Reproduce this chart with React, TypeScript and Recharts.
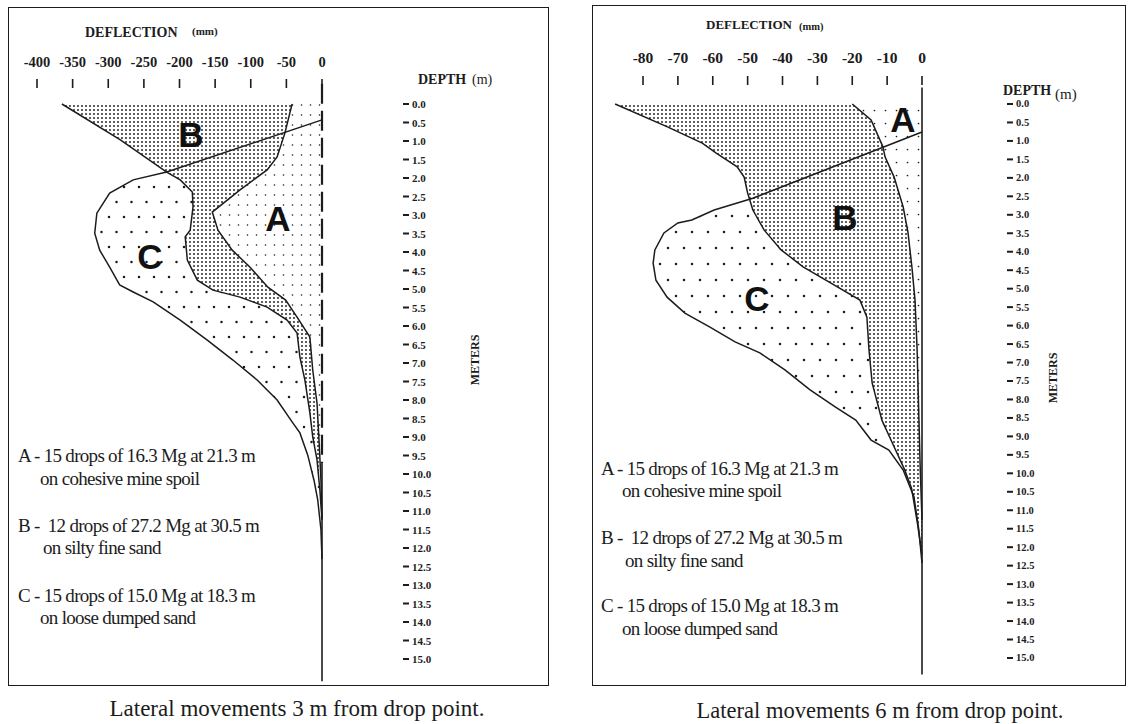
import React from "react";
import { ComposedChart, Area, Line, XAxis, YAxis, ReferenceLine } from "recharts";

const SERIF = "'Liberation Serif', 'Times New Roman', serif";
const SANS = "'Liberation Sans', Arial, sans-serif";
const INK = "#1c1c1c";

// Lateral movement 3 m from the drop point: depth (m) vs deflection (mm)
const depthA3 = [0, 0.78, 1.43, 1.78, 2.32, 2.92, 3.41, 3.95, 4.41, 4.95, 5.3, 5.76, 6.3, 7.19, 8.08, 9.16, 10.16, 11.2];
const deflA3 = [-42, -52, -63, -77, -115, -154, -146, -126, -101, -76, -51, -35, -17, -13, -7, -4, -1.5, 0];

const depthB3 = [0, 0.97, 1.84, 2.05, 2.38, 2.78, 3.41, 3.59, 4.22, 4.76, 5.03, 5.22, 5.49, 5.84, 6.19, 6.84, 7.46, 8.35, 9.0, 9.62, 10.43, 11.24];
const deflB3 = [-365, -283, -218, -199, -182, -181, -185, -192, -189, -175, -153, -115, -77, -49, -35, -31, -24, -17, -13, -7, -3, 0];

const depthC3 = [0.43, 1.84, 2.05, 2.41, 2.95, 3.49, 3.95, 4.41, 4.89, 5.08, 5.35, 5.84, 6.38, 6.92, 7.46, 8.0, 8.62, 8.89, 9.49, 10.19, 10.7, 11.5, 12.3];
const deflC3 = [0, -218, -265, -298, -316, -319, -312, -298, -284, -265, -237, -199, -161, -125, -91, -63, -41, -31, -20, -11, -6, -1.5, 0];

// Lateral movement 6 m from the drop point
const depthA6 = [0, 0.43, 1.16, 1.43, 1.98, 2.79, 3.49, 4.41, 5.31, 6.66, 8.48, 9.9, 11.26];
const deflA6 = [-20, -14.6, -11.2, -10.6, -8, -5.4, -4, -2.9, -2, -1.4, -0.9, -0.5, 0];

const depthB6 = [0, 0.62, 1.06, 1.33, 1.7, 1.98, 2.41, 2.87, 3.41, 3.95, 4.41, 4.85, 5.31, 5.77, 6.66, 7.55, 8.56, 9.18, 9.9, 10.4, 11.3, 12.2];
const deflB6 = [-88, -73, -63, -59, -53, -51, -50, -48.5, -45.3, -40.4, -34.1, -26.1, -17.8, -15.8, -15.2, -14.3, -11.5, -8.5, -5, -3, -1.4, 0];

const depthC6 = [0.76, 2.55, 2.87, 3.14, 3.22, 3.49, 3.95, 4.31, 4.77, 5.23, 5.66, 6.04, 6.44, 6.74, 7.2, 7.74, 8.2, 8.56, 9.1, 9.37, 9.91, 10.64, 11.54, 12.43];
const deflC6 = [0, -48.5, -59.6, -66, -70, -74, -76.6, -77.1, -76.3, -73.1, -68, -60.8, -53.6, -46.5, -39.3, -32.1, -24.9, -19, -14.6, -9.5, -5.4, -2.3, -0.9, 0];

const deflTicks3 = [-400, -350, -300, -250, -200, -150, -100, -50, 0];
const deflTicks6 = [-80, -70, -60, -50, -40, -30, -20, -10, 0];
const depthTicks = [0, 0.5, 1, 1.5, 2, 2.5, 3, 3.5, 4, 4.5, 5, 5.5, 6, 6.5, 7, 7.5, 8, 8.5, 9, 9.5, 10, 10.5, 11, 11.5, 12, 12.5, 13, 13.5, 14, 14.5, 15];

const legendLines = [
  "A - 15 drops of 16.3 Mg at 21.3 m",
  "on cohesive mine spoil",
  "B - \u00a012 drops of 27.2 Mg at 30.5 m",
  "on silty fine sand",
  "C - 15 drops of 15.0 Mg at 18.3 m",
  "on loose dumped sand",
];

type Row = { depth: number; [key: string]: number };

function buildRows(series: [string, number[], number[]][]): Row[] {
  const rows: Row[] = [];
  series.forEach(([key, depth, defl]) =>
    depth.forEach((d, i) => rows.push({ depth: d, [key]: defl[i] }))
  );
  return rows.sort((p, q) => p.depth - q.depth);
}

const rows3 = buildRows([["a", depthA3, deflA3], ["b", depthB3, deflB3], ["c", depthC3, deflC3]]);
const rows6 = buildRows([["a", depthA6, deflA6], ["b", depthB6, deflB6], ["c", depthC6, deflC6]]);

type Dots = { w: number; h: number; r: number; at: [number, number][] };

function DotPattern({ id, spec }: { id: string; spec: Dots }) {
  return (
    <pattern id={id} width={spec.w} height={spec.h} patternUnits="userSpaceOnUse">
      <rect width={spec.w} height={spec.h} fill="#fff" />
      {spec.at.map(([cx, cy], i) => (
        <circle key={i} cx={cx} cy={cy} r={spec.r} fill={INK} />
      ))}
    </pattern>
  );
}

interface PanelProps {
  id: string;
  rows: Row[];
  xDomain: [number, number];
  yDomain: [number, number];
  deflTicks: number[];
  margin: { top: number; right: number; bottom: number; left: number };
  yAxisWidth: number;
  tickLabelY: number;
  tickMark: [number, number];
  tickFont: number;
  depthDashX: number;
  depthFont: number;
  dots: { a: Dots; b: Dots; c: Dots };
  dashedUntil?: number;
}

function DeflectionPanel(p: PanelProps) {
  const renderDeflTick = (props: any) => {
    const { x, payload } = props;
    return (
      <g>
        <text x={x} y={p.tickLabelY} textAnchor="middle" dominantBaseline="central"
          fontFamily={SERIF} fontWeight={700} fontSize={p.tickFont} fill={INK}>
          {payload.value}
        </text>
        <line x1={x} x2={x} y1={p.tickMark[0]} y2={p.tickMark[1]} stroke={INK} strokeWidth={1.6} />
      </g>
    );
  };

  const renderDepthTick = (props: any) => {
    const { y, payload } = props;
    return (
      <g>
        <line x1={p.depthDashX} x2={p.depthDashX + 6} y1={y} y2={y} stroke={INK} strokeWidth={2} />
        <text x={p.depthDashX + 9} y={y} dominantBaseline="central" fontFamily={SERIF}
          fontWeight={700} fontSize={p.depthFont} fill={INK}>
          {Number(payload.value).toFixed(1)}
        </text>
      </g>
    );
  };

  const [yTop, yBottom] = p.yDomain;

  return (
    <div style={{ position: "absolute", left: 0, top: 0 }}>
      <ComposedChart width={1129} height={724} data={p.rows} layout="vertical" margin={p.margin}>
        <defs>
          <DotPattern id={`${p.id}-a`} spec={p.dots.a} />
          <DotPattern id={`${p.id}-b`} spec={p.dots.b} />
          <DotPattern id={`${p.id}-c`} spec={p.dots.c} />
        </defs>
        <XAxis type="number" orientation="top" domain={p.xDomain} ticks={p.deflTicks}
          allowDataOverflow interval={0} axisLine={false} tickLine={false} height={50}
          tick={renderDeflTick} />
        <YAxis type="number" dataKey="depth" orientation="right" domain={p.yDomain}
          ticks={depthTicks} allowDataOverflow interval={0} axisLine={false} tickLine={false}
          width={p.yAxisWidth} tick={renderDepthTick} />

        {/* fills: C under B under A */}
        <Area type="linear" dataKey="c" fill={`url(#${p.id}-c)`} fillOpacity={1} stroke="none"
          connectNulls dot={false} activeDot={false} isAnimationActive={false} />
        <Area type="linear" dataKey="b" fill={`url(#${p.id}-b)`} fillOpacity={1} stroke="none"
          connectNulls dot={false} activeDot={false} isAnimationActive={false} />
        <Area type="linear" dataKey="a" fill={`url(#${p.id}-a)`} fillOpacity={1} stroke="none"
          connectNulls dot={false} activeDot={false} isAnimationActive={false} />

        {p.dashedUntil !== undefined ? (
          <>
            <ReferenceLine segment={[{ x: 0, y: yTop }, { x: 0, y: p.dashedUntil }]}
              stroke={INK} strokeWidth={2.2} strokeDasharray="20 7" />
            <ReferenceLine segment={[{ x: 0, y: p.dashedUntil }, { x: 0, y: yBottom }]}
              stroke={INK} strokeWidth={1.6} />
          </>
        ) : (
          <ReferenceLine x={0} stroke={INK} strokeWidth={1.6} />
        )}

        {/* outlines */}
        {["c", "b", "a"].map((k) => (
          <Line key={k} type="linear" dataKey={k} stroke={INK} strokeWidth={1.5} connectNulls
            dot={false} activeDot={false} isAnimationActive={false} />
        ))}
      </ComposedChart>
    </div>
  );
}

const txt = { fontFamily: SERIF, fill: INK } as const;

function Legend({ x, indent, ys }: { x: number; indent: number[]; ys: number[] }) {
  return (
    <g>
      {legendLines.map((line, i) => (
        <text key={i} x={x + (i % 2 ? indent[(i - 1) / 2] : 0)} y={ys[i]} dominantBaseline="central"
          {...txt} fontSize={19} letterSpacing={-0.7} style={{ whiteSpace: "pre" }}>
          {line}
        </text>
      ))}
    </g>
  );
}

function BigLetter({ x, y, ch }: { x: number; y: number; ch: string }) {
  return (
    <text x={x} y={y} textAnchor="middle" dominantBaseline="central" fontFamily={SANS}
      fontWeight={700} fontSize={35} fill="#111">
      {ch}
    </text>
  );
}

export default function App() {
  const fine3: Dots = { w: 9, h: 10, r: 0.8, at: [[4.5, 5]] };
  const dense: Dots = { w: 4, h: 4, r: 0.95, at: [[2, 2]] };
  const coarse3: Dots = { w: 15, h: 30, r: 1.25, at: [[4, 7], [11.5, 22]] };
  const fine6: Dots = { w: 11, h: 13, r: 0.85, at: [[5.5, 6.5]] };
  const coarse6: Dots = { w: 16, h: 32, r: 1.25, at: [[4, 8], [12, 24]] };

  return (
    <div style={{ position: "absolute", left: 0, top: 0, width: 1129, height: 724, background: "#fff" }}>
      <div style={{ position: "absolute", left: 8, top: 7, width: 541, height: 679, border: `1.6px solid ${INK}`, boxSizing: "border-box" }} />
      <div style={{ position: "absolute", left: 592, top: 5, width: 534, height: 681, border: `1.6px solid ${INK}`, boxSizing: "border-box" }} />

      <DeflectionPanel
        id="m3"
        rows={rows3}
        xDomain={[-440, 20]}
        yDomain={[-0.55, 15.6]}
        deflTicks={deflTicks3}
        margin={{ top: 33.65, right: 692.75, bottom: 42.8, left: 8.5 }}
        yAxisWidth={100}
        tickLabelY={62}
        tickMark={[79, 88]}
        tickFont={14.5}
        depthDashX={403}
        depthFont={11}
        dots={{ a: fine3, b: dense, c: coarse3 }}
        dashedUntil={9.7}
      />
      <DeflectionPanel
        id="m6"
        rows={rows6}
        xDomain={[-95, 5]}
        yDomain={[-0.45, 15.45]}
        deflTicks={deflTicks6}
        margin={{ top: 37.38, right: 129.56, bottom: 49.4, left: 590.7 }}
        yAxisWidth={60}
        tickLabelY={57}
        tickMark={[76, 85]}
        tickFont={15.5}
        depthDashX={1007}
        depthFont={10.5}
        dots={{ a: fine6, b: dense, c: coarse6 }}
      />

      <svg width={1129} height={724} style={{ position: "absolute", left: 0, top: 0 }}>
        {/* 3 m panel */}
        <text x={85} y={32} dominantBaseline="central" {...txt} fontWeight={700} fontSize={14}>DEFLECTION</text>
        <text x={192} y={30.5} dominantBaseline="central" {...txt} fontWeight={700} fontSize={11}>(mm)</text>
        <text x={418} y={79} dominantBaseline="central" {...txt} fontWeight={700} fontSize={14}>DEPTH</text>
        <text x={472} y={79} dominantBaseline="central" {...txt} fontSize={14}>(m)</text>
        <text transform="translate(475,360) rotate(-90)" textAnchor="middle" dominantBaseline="central"
          {...txt} fontWeight={700} fontSize={12}>METERS</text>
        <BigLetter x={191} y={134} ch="B" />
        <BigLetter x={278} y={218} ch="A" />
        <BigLetter x={150} y={256} ch="C" />
        <Legend x={18} indent={[22, 25, 22]} ys={[455, 478, 525, 547, 595, 617]} />
        <text x={297} y={708} textAnchor="middle" dominantBaseline="central" {...txt} fontSize={23}>
          Lateral movements 3 m from drop point.
        </text>

        {/* 6 m panel */}
        <text x={706} y={24} dominantBaseline="central" {...txt} fontWeight={700} fontSize={13}>DEFLECTION</text>
        <text x={799} y={26} dominantBaseline="central" {...txt} fontWeight={700} fontSize={10.5}>(mm)</text>
        <text x={1003} y={90} dominantBaseline="central" {...txt} fontWeight={700} fontSize={14}>DEPTH</text>
        <text x={1055} y={94} dominantBaseline="central" {...txt} fontSize={15}>(m)</text>
        <text transform="translate(1053,378) rotate(-90)" textAnchor="middle" dominantBaseline="central"
          {...txt} fontWeight={700} fontSize={12}>METERS</text>
        <BigLetter x={903} y={119} ch="A" />
        <BigLetter x={845} y={217} ch="B" />
        <BigLetter x={757} y={298} ch="C" />
        <Legend x={601} indent={[21, 24, 21]} ys={[468, 490, 537, 560, 605, 628]} />
        <text x={880} y={710} textAnchor="middle" dominantBaseline="central" {...txt} fontSize={22.5}>
          Lateral movements 6 m from drop point.
        </text>
      </svg>
    </div>
  );
}
